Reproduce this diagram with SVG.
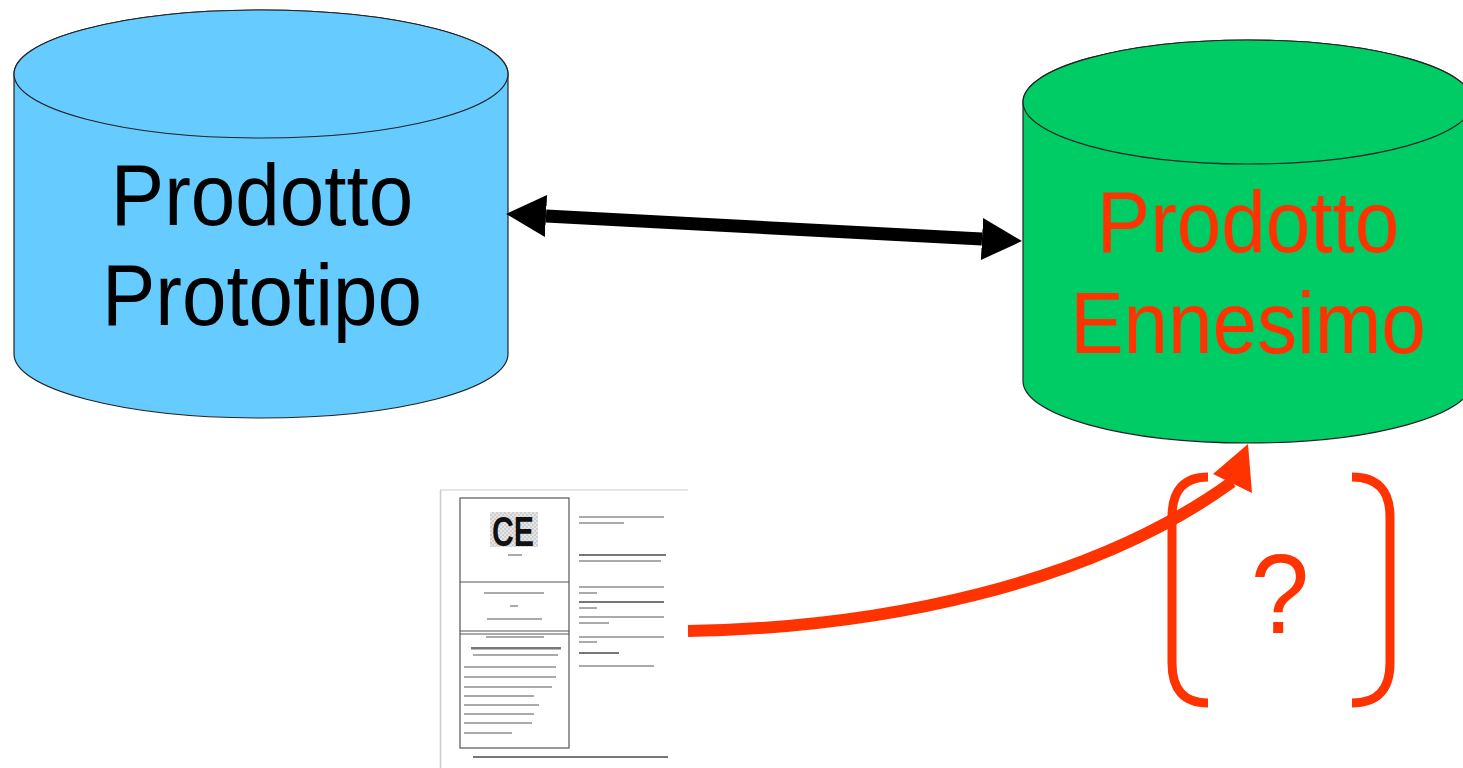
<svg xmlns="http://www.w3.org/2000/svg" width="1463" height="768" viewBox="0 0 1463 768">
<style>
.cyl{stroke:#222;stroke-width:1.2}
.lbl{font-family:"Liberation Sans",Arial,sans-serif;font-size:80px;text-anchor:middle}
.bar{fill:#aaa}
.dbar{fill:#777}
.red{fill:none;stroke:#FF3300;stroke-width:9;stroke-linecap:butt}
</style>
<defs>
<marker id="head" markerUnits="userSpaceOnUse" markerWidth="40" markerHeight="42" refX="0" refY="21" orient="auto-start-reverse" viewBox="0 0 40 42">
<path d="M0,0 L40,21 L0,42 Z" fill="#000"/>
</marker>
<pattern id="chk" width="4" height="4" patternUnits="userSpaceOnUse">
<rect width="4" height="4" fill="#e6e6e6"/>
<rect width="2" height="2" fill="#cfcfcf"/>
<rect x="2" y="2" width="2" height="2" fill="#cfcfcf"/>
</pattern>
</defs>
<rect width="1463" height="768" fill="#fff"/>

<g id="prototipo">
<path class="cyl" fill="#66CCFF" d="M14,74 V354 A247,64 0 0 0 508,354 V74 A247,64 0 0 0 14,74 Z"/>
<ellipse class="cyl" fill="#66CCFF" cx="261" cy="74" rx="247" ry="64"/>
<g transform="translate(262,225) scale(1,1.08)"><text class="lbl" fill="#000" x="0" y="0">Prodotto</text></g>
<g transform="translate(262,325) scale(1,1.08)"><text class="lbl" fill="#000" x="0" y="0">Prototipo</text></g>
</g>

<g id="ennesimo">
<path class="cyl" fill="#00CC66" d="M1023,102 V381 A225,62 0 0 0 1473,381 V102 A225,62 0 0 0 1023,102 Z"/>
<ellipse class="cyl" fill="#00CC66" cx="1248" cy="102" rx="225" ry="62"/>
<g transform="translate(1248,252) scale(1,1.08)"><text class="lbl" fill="#FF3300" x="0" y="0">Prodotto</text></g>
<g transform="translate(1248,353) scale(1,1.08)"><text class="lbl" fill="#FF3300" x="0" y="0">Ennesimo</text></g>
</g>

<g id="documento">
<rect x="440" y="490" width="248" height="278" fill="#fff"/>
<line x1="440" y1="490" x2="688" y2="490" stroke="#ddd" stroke-width="1.5"/>
<line x1="440.5" y1="490" x2="440.5" y2="768" stroke="#ccc" stroke-width="1.5"/>
<rect x="460" y="498" width="109" height="250" fill="none" stroke="#555" stroke-width="1.2"/>
<line x1="460" y1="582" x2="569" y2="582" stroke="#555" stroke-width="1.2"/>
<line x1="460" y1="631" x2="569" y2="631" stroke="#555" stroke-width="1"/>
<line x1="460" y1="634" x2="569" y2="634" stroke="#555" stroke-width="1"/>
<rect x="490" y="512" width="48" height="35" fill="url(#chk)"/>
<text x="513" y="546" font-family="'Liberation Sans',Arial,sans-serif" font-size="42" font-weight="bold" fill="#111" text-anchor="middle" textLength="42" lengthAdjust="spacingAndGlyphs">CE</text>
<rect class="bar" x="508" y="554" width="14" height="2"/>
<rect class="bar" x="484" y="592" width="60" height="2"/>
<rect class="bar" x="510" y="605" width="8" height="2"/>
<rect class="bar" x="487" y="618" width="55" height="2"/>
<rect class="bar" x="486" y="636" width="58" height="2"/>
<rect class="dbar" x="471" y="647" width="90" height="2.5"/>
<rect class="bar" x="473" y="654" width="85" height="2"/>
<rect class="bar" x="464" y="666" width="92" height="2"/>
<rect class="bar" x="464" y="676" width="92" height="2"/>
<rect class="bar" x="464" y="686" width="88" height="2"/>
<rect class="bar" x="464" y="695" width="70" height="2"/>
<rect class="bar" x="464" y="704" width="75" height="2"/>
<rect class="bar" x="464" y="713" width="70" height="2"/>
<rect class="bar" x="464" y="722" width="68" height="2"/>
<rect class="bar" x="464" y="732" width="48" height="2"/>
<rect class="dbar" x="473" y="756" width="195" height="2"/>
<rect class="bar" x="579" y="516" width="85" height="2"/>
<rect class="bar" x="579" y="522" width="45" height="2"/>
<rect class="dbar" x="579" y="554" width="87" height="2"/>
<rect class="bar" x="579" y="560" width="82" height="2"/>
<rect class="bar" x="579" y="586" width="85" height="2"/>
<rect class="bar" x="579" y="592" width="18" height="2"/>
<rect class="dbar" x="579" y="601" width="85" height="2"/>
<rect class="bar" x="579" y="607" width="18" height="2"/>
<rect class="bar" x="579" y="616" width="85" height="2"/>
<rect class="bar" x="579" y="622" width="30" height="2"/>
<rect class="bar" x="579" y="636" width="85" height="2"/>
<rect class="bar" x="579" y="641" width="18" height="2"/>
<rect class="dbar" x="579" y="652" width="40" height="2"/>
<rect class="bar" x="579" y="665" width="75" height="2"/>
</g>

<g id="incognita">
<path class="red" d="M1208,477 Q1172,477 1172,517 V663 Q1172,703 1208,703"/>
<path class="red" d="M1352,477 Q1390,477 1390,517 V663 Q1390,703 1352,703"/>
<g transform="translate(1280,633) scale(1,1.08)"><text x="0" y="0" font-family="'Liberation Sans',Arial,sans-serif" font-size="105" fill="#FF3300" text-anchor="middle">?</text></g>
</g>

<g id="connectors">
<line x1="546" y1="216" x2="982" y2="239" stroke="#000" stroke-width="13" marker-start="url(#head)" marker-end="url(#head)"/>
<path d="M688,631 C880,628 1090,585 1232,482" fill="none" stroke="#FF3300" stroke-width="12"/>
<polygon points="1213,474 1248,444 1252,493" fill="#FF3300"/>
</g>
</svg>
